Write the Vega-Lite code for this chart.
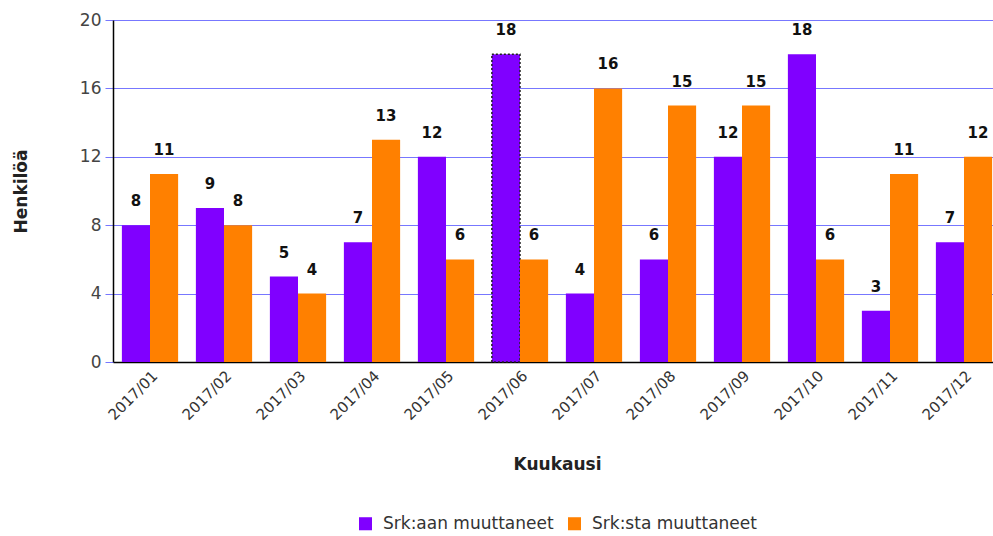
{
  "$schema": "https://vega.github.io/schema/vega-lite/v6.json",
  "width": 888,
  "height": 342,
  "padding": {"left": 12, "top": 11, "right": 0, "bottom": 5},
  "background": "white",
  "config": {
    "font": "DejaVu Sans",
    "view": {"stroke": null},
    "legend": {"layout": {"bottom": {"anchor": "middle"}}}
  },
  "data": {
    "values": [
      {"month": "2017/01", "series": "Srk:aan muuttaneet", "value": 8},
      {"month": "2017/01", "series": "Srk:sta muuttaneet", "value": 11},
      {"month": "2017/02", "series": "Srk:aan muuttaneet", "value": 9},
      {"month": "2017/02", "series": "Srk:sta muuttaneet", "value": 8},
      {"month": "2017/03", "series": "Srk:aan muuttaneet", "value": 5},
      {"month": "2017/03", "series": "Srk:sta muuttaneet", "value": 4},
      {"month": "2017/04", "series": "Srk:aan muuttaneet", "value": 7},
      {"month": "2017/04", "series": "Srk:sta muuttaneet", "value": 13},
      {"month": "2017/05", "series": "Srk:aan muuttaneet", "value": 12},
      {"month": "2017/05", "series": "Srk:sta muuttaneet", "value": 6},
      {"month": "2017/06", "series": "Srk:aan muuttaneet", "value": 18},
      {"month": "2017/06", "series": "Srk:sta muuttaneet", "value": 6},
      {"month": "2017/07", "series": "Srk:aan muuttaneet", "value": 4},
      {"month": "2017/07", "series": "Srk:sta muuttaneet", "value": 16},
      {"month": "2017/08", "series": "Srk:aan muuttaneet", "value": 6},
      {"month": "2017/08", "series": "Srk:sta muuttaneet", "value": 15},
      {"month": "2017/09", "series": "Srk:aan muuttaneet", "value": 12},
      {"month": "2017/09", "series": "Srk:sta muuttaneet", "value": 15},
      {"month": "2017/10", "series": "Srk:aan muuttaneet", "value": 18},
      {"month": "2017/10", "series": "Srk:sta muuttaneet", "value": 6},
      {"month": "2017/11", "series": "Srk:aan muuttaneet", "value": 3},
      {"month": "2017/11", "series": "Srk:sta muuttaneet", "value": 11},
      {"month": "2017/12", "series": "Srk:aan muuttaneet", "value": 7},
      {"month": "2017/12", "series": "Srk:sta muuttaneet", "value": 12}
    ]
  },
  "encoding": {
    "x": {
      "field": "month", "type": "nominal",
      "scale": {"paddingInner": 0.24, "paddingOuter": 0.12},
      "axis": {
        "title": "Kuukausi", "titleFontSize": 17, "titleFontWeight": "bold", "titleColor": "#222",
        "titlePadding": 34,
        "labelAngle": -45, "labelFontSize": 15, "labelColor": "#333",
        "ticks": false, "labelPadding": 6,
        "domainColor": "#000", "domainWidth": 1.5, "grid": false
      }
    },
    "y": {
      "field": "value", "type": "quantitative",
      "scale": {"domain": [0, 20], "nice": false},
      "axis": {
        "title": "Henkilöä", "titleFontSize": 17, "titleFontWeight": "bold", "titleColor": "#222",
        "titlePadding": 49,
        "values": [0, 4, 8, 12, 16, 20],
        "labelFontSize": 17, "labelColor": "#444", "labelPadding": 4,
        "tickColor": "#7777ff", "tickSize": 8,
        "gridColor": "#7777ff", "gridOpacity": 1, "gridWidth": 1,
        "domainColor": "#000", "domainWidth": 1.5
      }
    },
    "xOffset": {"field": "series", "type": "nominal", "sort": ["Srk:aan muuttaneet", "Srk:sta muuttaneet"], "scale": {"paddingInner": 0, "paddingOuter": 0}}
  },
  "layer": [
    {
      "mark": {"type": "bar", "strokeDash": [2, 2], "strokeWidth": 1.5},
      "encoding": {
        "color": {
          "field": "series", "type": "nominal",
          "scale": {"domain": ["Srk:aan muuttaneet", "Srk:sta muuttaneet"], "range": ["#8000ff", "#ff8000"]},
          "legend": {
            "title": null, "orient": "bottom", "direction": "horizontal",
            "symbolType": "square", "symbolSize": 170, "symbolStrokeWidth": 0,
            "labelFontSize": 17, "labelLimit": 400, "labelColor": "#333", "labelOffset": 9, "columnPadding": 12, "offset": 42
          }
        },
        "stroke": {
          "condition": {"test": "datum.month == '2017/06' && datum.series == 'Srk:aan muuttaneet'", "value": "#222"},
          "value": null
        }
      }
    },
    {
      "mark": {"type": "text", "baseline": "bottom", "dy": -16, "fontSize": 15, "fontWeight": "bold", "color": "#111"},
      "encoding": {"text": {"field": "value", "type": "quantitative"}}
    }
  ]
}
